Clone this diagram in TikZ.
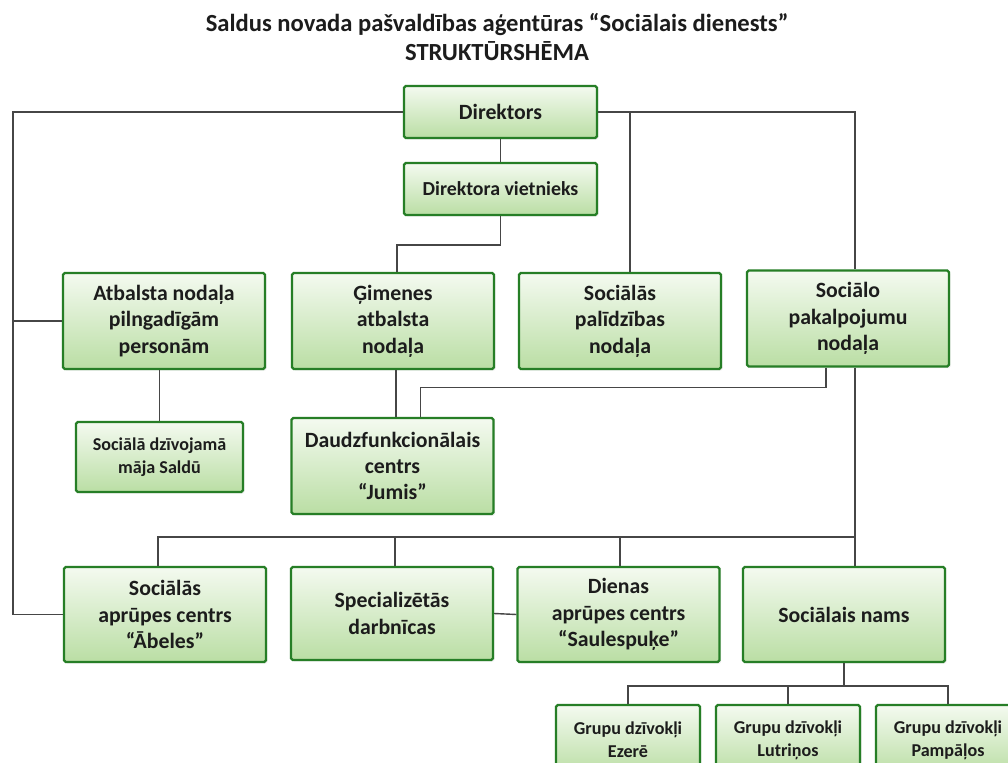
\documentclass[tikz,border=0pt]{standalone}
\usepackage{fontspec}
\setmainfont{Carlito}
\usetikzlibrary{shadows}

\definecolor{boxline}{RGB}{38,126,38}
\definecolor{boxtop}{RGB}{244,250,240}
\definecolor{boxbot}{RGB}{186,222,164}
\definecolor{wire}{RGB}{70,70,70}
\definecolor{ink}{RGB}{28,28,28}

\tikzset{
  unit/.style={draw=boxline, line width=1.3pt, rounded corners=1pt,
    top color=boxtop, bottom color=boxbot, text=ink, align=center,
    inner sep=2pt,
    drop shadow={opacity=0.12, shadow xshift=1pt, shadow yshift=-1pt}},
  bigunit/.style={unit, font=\bfseries\fontsize{12.4}{15}\selectfont,
    minimum width=4.04cm, minimum height=1.92cm},
  smallunit/.style={unit, font=\bfseries\fontsize{10.3}{13}\selectfont},
  link/.style={draw=wire, line width=0.8pt}
}

\begin{document}
\begin{tikzpicture}[x=0.02cm,y=-0.02cm]
  \clip (0,0) rectangle (1008,763);
  \fill[white] (0,0) rectangle (1008,763);

  % heading
  \node[text=ink, align=center, font=\bfseries\fontsize{14}{17}\selectfont]
    (title) at (497,37) {Saldus novada pašvaldības aģentūras “Sociālais dienests”\\STRUKTŪRSHĒMA};

  % management
  \node[unit, font=\bfseries\fontsize{12.4}{15}\selectfont,
    minimum width=3.86cm, minimum height=1.04cm] (dir) at (500.5,112) {Direktors};
  \node[unit, font=\bfseries\fontsize{11.3}{13}\selectfont,
    minimum width=3.86cm, minimum height=1.04cm] (vice) at (500.5,189) {Direktora vietnieks};

  % departments
  \node[bigunit] (atb) at (164,321) {Atbalsta nodaļa\\pilngadīgām\\personām};
  \node[bigunit] (gim) at (393,321) {Ģimenes\\atbalsta\\nodaļa};
  \node[bigunit] (palid) at (620,321) {Sociālās\\palīdzības\\nodaļa};
  \node[bigunit] (pakalp) at (848,318.5) {Sociālo\\pakalpojumu\\nodaļa};

  \node[smallunit, minimum width=3.34cm, minimum height=1.4cm]
    (dzmaja) at (159.5,457) {Sociālā dzīvojamā\\māja Saldū};
  \node[bigunit] (jumis) at (392.5,466) {Daudzfunkcionālais\\centrs\\“Jumis”};

  % institutions
  \node[bigunit, minimum height=1.9cm] (abeles) at (165,614.5) {Sociālās\\aprūpes centrs\\“Ābeles”};
  \node[bigunit, minimum height=1.86cm] (darbn) at (392,613.5) {Specializētās\\darbnīcas};
  \node[bigunit, minimum height=1.9cm] (dienas) at (618.5,614.5) {Dienas\\aprūpes centrs\\“Saulespuķe”};
  \node[bigunit, minimum height=1.9cm] (nams) at (844,614.5) {Sociālais nams};

  % group flats
  \foreach \n/\x/\t in {ezere/628/Ezerē, lutr/788/Lutriņos, pamp/948/Pampāļos} {
    \node[smallunit, minimum width=2.88cm, minimum height=1.4cm]
      (\n) at (\x,740) {Grupu dzīvokļi\\\t};
  }

  % connectors
  \coordinate (lbus) at (13,112);
  \coordinate (rbus) at (855,112);
  \coordinate (hbus) at (855,537);
  \coordinate (gbus) at (844,686);

  \draw[link] (dir.west) -- (lbus) |- (abeles.west);
  \draw[link] (lbus |- atb.west) -- (atb.west);
  \draw[link] (dir.east) -- (rbus) -- (rbus |- pakalp.north);
  \draw[link] ([xshift=0.2cm]palid.north |- dir.east) -- ([xshift=0.2cm]palid.north);
  \draw[link] (dir) -- (vice);
  \draw[link] (vice.south) -- ++(0,29) -| ([xshift=0.08cm]gim.north);
  \draw[link] (dzmaja.north |- atb.south) -- (dzmaja.north);
  \draw[link] ([xshift=0.06cm]gim.south) -- ([xshift=0.06cm]gim.south |- jumis.north);
  \draw[link] ([xshift=-0.44cm]pakalp.south) -- ++(0,20) -| ([xshift=0.56cm]jumis.north);
  \draw[link] (rbus |- pakalp.south) -- (rbus |- nams.north);
  \foreach \n/\dx in {abeles/-0.14cm, darbn/0.06cm, dienas/0.03cm} {
    \draw[link] (hbus) -| ([xshift=\dx]\n.north);
  }
  \draw[link] (darbn.east) -- (dienas.west);
  \draw[link] (nams.south) -- (gbus);
  \foreach \n in {ezere,lutr,pamp} {
    \draw[link] (gbus) -| (\n.north);
  }
\end{tikzpicture}
\end{document}
